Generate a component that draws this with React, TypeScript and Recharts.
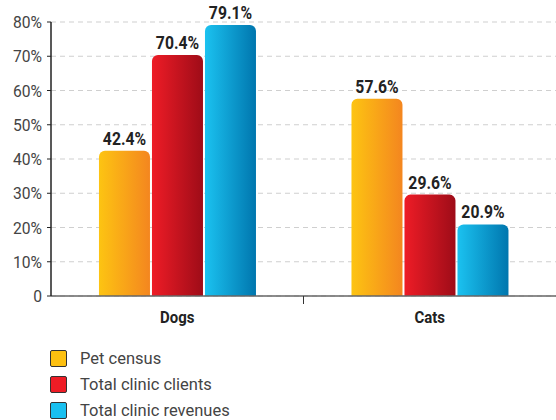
import React from "react";
import { BarChart, Bar, XAxis, YAxis, CartesianGrid, LabelList } from "recharts";

const categories = ["Dogs", "Cats"];
const petCensus = [42.4, 57.6];
const clinicClients = [70.4, 29.6];
const clinicRevenues = [79.1, 20.9];
const yTicks = [0, 10, 20, 30, 40, 50, 60, 70, 80];

const seriesNames = ["Pet census", "Total clinic clients", "Total clinic revenues"];
const seriesKeys = ["pet", "clients", "revenues"];
const gradients = [
  ["#FDC412", "#F4861F"],
  ["#EE1C26", "#9E0C18"],
  ["#1BC2F0", "#0076AE"],
];
const legendColors = ["#FDC010", "#EE1C25", "#19C0F0"];

const data = categories.map((c, i) => ({
  name: c,
  pet: petCensus[i],
  clients: clinicClients[i],
  revenues: clinicRevenues[i],
}));

const FONT = "Roboto, 'DejaVu Sans Condensed', sans-serif";

const XTick = (props: any) => {
  const { x, y, payload, index } = props;
  const off = payload && payload.offset ? payload.offset : 0;
  return (
    <g>
      <text
        transform={`translate(${x},${y + 19}) scale(0.88,1)`}
        textAnchor="middle"
        fontFamily={FONT}
        fontWeight="bold"
        fontSize={17}
        fill="#222"
      >
        {payload.value}
      </text>
      {index === 0 && <line x1={x + off} x2={x + off} y1={y - 8} y2={y} stroke="#333" strokeWidth={1} />}
    </g>
  );
};

const YTick = (props: any) => {
  const { x, y, payload } = props;
  const v = payload.value;
  return (
    <text
      transform={`translate(${x},${y + 6}) scale(0.95,1)`}
      textAnchor="end"
      fontFamily={FONT}
      fontSize={16.5}
      fill="#444"
    >
      {v === 0 ? "0" : `${v}%`}
    </text>
  );
};

const BarLabel = (props: any) => {
  const { x, y, width, value } = props;
  return (
    <text
      transform={`translate(${Number(x) + Number(width) / 2},${Number(y) - 6}) scale(0.85,1)`}
      textAnchor="middle"
      fontFamily={FONT}
      fontWeight="bold"
      fontSize={18.5}
      fill="#222"
    >
      {`${Number(value).toFixed(1)}%`}
    </text>
  );
};

export default function App() {
  return (
    <div style={{ position: "absolute", left: 0, top: 0, width: 556, height: 420, background: "#fff" }}>
      <BarChart
        width={556}
        height={330}
        data={data}
        margin={{ top: 22, right: 0, left: 0, bottom: 0 }}
        barCategoryGap="19%"
        barGap={2}
      >
        <defs>
          {gradients.map((g, i) => (
            <linearGradient key={i} id={`grad${i}`} x1="0" y1="0" x2="1" y2="0">
              <stop offset="0%" stopColor={g[0]} />
              <stop offset="100%" stopColor={g[1]} />
            </linearGradient>
          ))}
        </defs>
        <CartesianGrid vertical={false} stroke="#cfcfcf" strokeDasharray="5 4" />
        <XAxis
          dataKey="name"
          height={34}
          axisLine={{ stroke: "#666", strokeWidth: 1.5 }}
          tickLine={false}
          tick={<XTick />}
          interval={0}
        />
        <YAxis
          width={51}
          domain={[0, 80]}
          ticks={yTicks}
          interval={0}
          axisLine={{ stroke: "#222", strokeWidth: 1.5 }}
          tickLine={{ stroke: "#222" }}
          tickSize={4}
          tick={<YTick />}
          tickMargin={5}
        />
        {seriesKeys.map((k, i) => (
          <Bar key={k} dataKey={k} name={seriesNames[i]} fill={`url(#grad${i})`} radius={[6, 6, 0, 0]} isAnimationActive={false}>
            <LabelList dataKey={k} content={<BarLabel />} />
          </Bar>
        ))}
      </BarChart>
      <div style={{ position: "absolute", left: 50, top: 345, fontFamily: FONT, fontSize: 16.5, color: "#444" }}>
        {seriesNames.map((n, i) => (
          <div key={n} style={{ display: "flex", alignItems: "center", height: 26 }}>
            <span
              style={{
                display: "inline-block",
                width: 15,
                height: 15,
                background: legendColors[i],
                border: "1px solid #333",
                borderRadius: 2,
                marginRight: 13,
              }}
            />
            <span>{n}</span>
          </div>
        ))}
      </div>
    </div>
  );
}
